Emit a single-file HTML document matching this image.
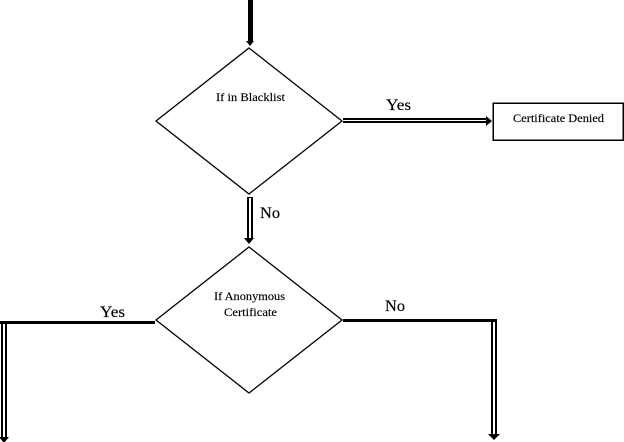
<!DOCTYPE html>
<html>
<head>
<meta charset="utf-8">
<style>
html,body{margin:0;padding:0;background:#fff;width:624px;height:442px;overflow:hidden}
svg{display:block}
text{font-family:"Liberation Serif",serif;fill:#000;stroke:#000;stroke-width:.15}
</style>
</head>
<body>
<svg width="624" height="442" viewBox="0 0 624 442" xmlns="http://www.w3.org/2000/svg" shape-rendering="crispEdges">
<g shape-rendering="geometricPrecision">
<polygon points="249,48 342,121 249,194 156,121" fill="#fff" stroke="#000" stroke-width="1.3"/>
<polygon points="249,247 342,320 249,393 156,320" fill="#fff" stroke="#000" stroke-width="1.3"/>
</g>
<!-- top arrow -->
<rect x="248" y="0" width="5" height="41" fill="#000"/>
<polygon points="246,41 254,41 250,46" fill="#000" shape-rendering="geometricPrecision"/>
<!-- yes arrow right -->
<rect x="343" y="118" width="145" height="5" fill="#000"/>
<rect x="343" y="120" width="143" height="1" fill="#fff"/>
<polygon points="486,116 492,121 486,126" fill="#000" shape-rendering="geometricPrecision"/>
<rect x="493" y="103" width="130" height="37" fill="#fff" stroke="#000" stroke-width="1.5"/>
<!-- no arrow down -->
<rect x="247" y="197" width="6" height="41" fill="#000"/>
<rect x="249" y="198" width="2" height="40" fill="#fff"/>
<polygon points="244,238 254,238 249,244" fill="#000" shape-rendering="geometricPrecision"/>
<!-- left branch -->
<rect x="0" y="321" width="155" height="3" fill="#000"/>
<rect x="1" y="324" width="6" height="113" fill="#000"/>
<rect x="3" y="324" width="2" height="113" fill="#fff"/>
<polygon points="-1,437 9,437 4,443" fill="#000" shape-rendering="geometricPrecision"/>
<!-- right branch -->
<rect x="343" y="319" width="154" height="3" fill="#000"/>
<rect x="491" y="322" width="6" height="112" fill="#000"/>
<rect x="493" y="322" width="2" height="112" fill="#fff"/>
<polygon points="488,434 500,434 494,440" fill="#000" shape-rendering="geometricPrecision"/>
<!-- labels -->
<text x="216" y="101" font-size="12" textLength="69" lengthAdjust="spacingAndGlyphs">If in Blacklist</text>
<text x="513" y="122" font-size="12" textLength="91" lengthAdjust="spacingAndGlyphs">Certificate Denied</text>
<text x="214" y="300" font-size="12" textLength="71" lengthAdjust="spacingAndGlyphs">If Anonymous</text>
<text x="224" y="316" font-size="12" textLength="53" lengthAdjust="spacingAndGlyphs">Certificate</text>
<text x="386" y="110" font-size="16" textLength="25" lengthAdjust="spacingAndGlyphs">Yes</text>
<text x="260" y="218" font-size="16" textLength="20" lengthAdjust="spacingAndGlyphs">No</text>
<text x="100" y="317" font-size="16" textLength="25" lengthAdjust="spacingAndGlyphs">Yes</text>
<text x="385" y="311" font-size="16" textLength="20" lengthAdjust="spacingAndGlyphs">No</text>
</svg>
</body>
</html>
